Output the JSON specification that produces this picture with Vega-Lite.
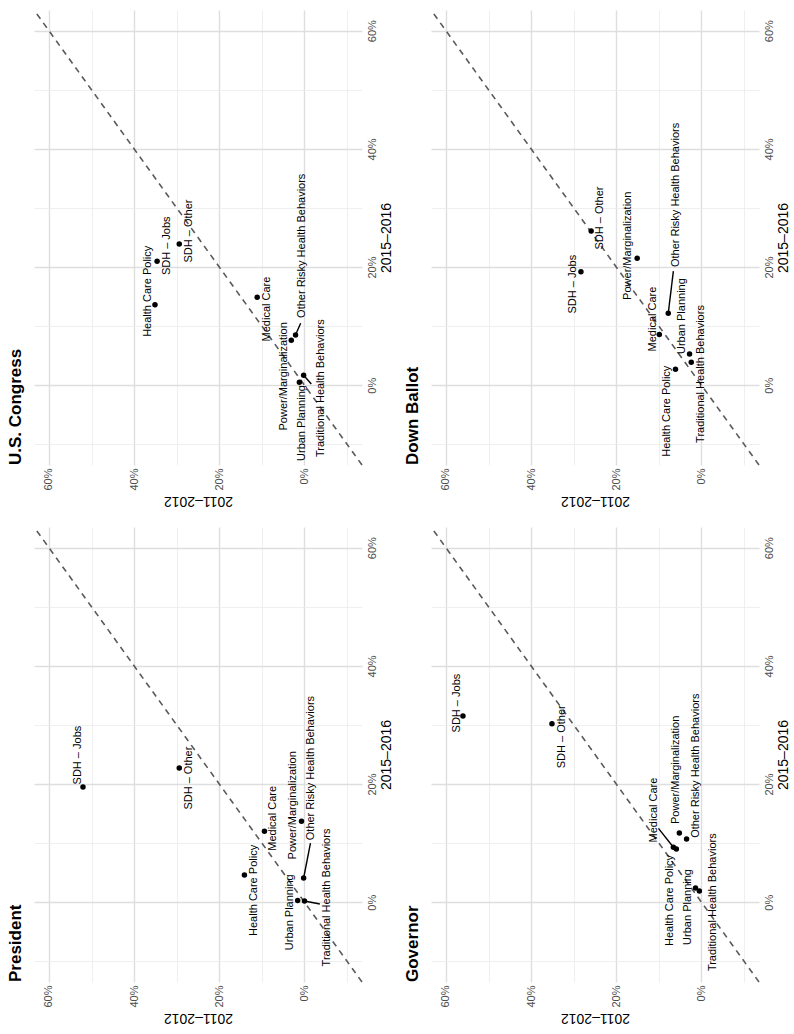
{
  "$schema": "https://vega.github.io/schema/vega-lite/v6.json",
  "background": "white",
  "padding": {"left": 7, "top": 9, "right": 0, "bottom": 0},
  "columns": 2,
  "spacing": {"row": 18, "column": 11},
  "datasets": {
    "diag": [{"lo": -13.5, "hi": 63.5}],
    "pts": [
      {"panel": "U.S. Congress", "label": "SDH – Jobs", "p2011": 34.6, "p2015": 21.0, "lx": 32.2, "ly": 23.6},
      {"panel": "U.S. Congress", "label": "SDH – Other", "p2011": 29.4, "p2015": 23.9, "lx": 27.1, "ly": 26.1},
      {"panel": "U.S. Congress", "label": "Health Care Policy", "p2011": 35.1, "p2015": 13.6, "lx": 36.7, "ly": 15.9},
      {"panel": "U.S. Congress", "label": "Medical Care", "p2011": 11.1, "p2015": 14.9, "lx": 8.9, "ly": 12.9},
      {"panel": "U.S. Congress", "label": "Power/Marginalization", "p2011": 3.1, "p2015": 7.6, "lx": 4.7, "ly": 1.5},
      {"panel": "U.S. Congress", "label": "Other Risky Health Behaviors", "p2011": 2.1, "p2015": 8.5, "lx": 0.7, "ly": 23.6, "sx": 0.9, "sy": 10.5},
      {"panel": "U.S. Congress", "label": "Urban Planning", "p2011": 1.2, "p2015": 0.5, "lx": 0.5, "ly": -6.4},
      {"panel": "U.S. Congress", "label": "Traditional Health Behaviors", "p2011": 0.2, "p2015": 1.7, "lx": -3.8, "ly": -0.5, "sx": -1.6, "sy": 0.2},
      {"panel": "Down Ballot", "label": "SDH – Jobs", "p2011": 28.3, "p2015": 19.2, "lx": 30.1, "ly": 17.1},
      {"panel": "Down Ballot", "label": "SDH – Other", "p2011": 25.9, "p2015": 26.1, "lx": 23.8, "ly": 28.3},
      {"panel": "Down Ballot", "label": "Power/Marginalization", "p2011": 15.1, "p2015": 21.5, "lx": 17.2, "ly": 23.6},
      {"panel": "Down Ballot", "label": "Other Risky Health Behaviors", "p2011": 7.8, "p2015": 12.2, "lx": 6.1, "ly": 32.2, "sx": 6.6, "sy": 19.3},
      {"panel": "Down Ballot", "label": "Medical Care", "p2011": 9.9, "p2015": 8.6, "lx": 11.5, "ly": 11.2},
      {"panel": "Down Ballot", "label": "Urban Planning", "p2011": 2.8, "p2015": 5.3, "lx": 4.5, "ly": 11.7},
      {"panel": "Down Ballot", "label": "Traditional Health Behaviors", "p2011": 2.4, "p2015": 3.9, "lx": 0.2, "ly": 1.9},
      {"panel": "Down Ballot", "label": "Health Care Policy", "p2011": 6.1, "p2015": 2.7, "lx": 8.0, "ly": -4.4},
      {"panel": "President", "label": "SDH – Jobs", "p2011": 52.0, "p2015": 19.5, "lx": 53.2, "ly": 24.9},
      {"panel": "President", "label": "SDH – Other", "p2011": 29.4, "p2015": 22.7, "lx": 27.1, "ly": 21.0},
      {"panel": "President", "label": "Health Care Policy", "p2011": 14.1, "p2015": 4.6, "lx": 11.8, "ly": 2.0},
      {"panel": "President", "label": "Medical Care", "p2011": 9.4, "p2015": 12.0, "lx": 7.3, "ly": 14.2},
      {"panel": "President", "label": "Power/Marginalization", "p2011": 0.7, "p2015": 13.7, "lx": 2.6, "ly": 16.4},
      {"panel": "President", "label": "Other Risky Health Behaviors", "p2011": 0.2, "p2015": 4.1, "lx": -1.6, "ly": 22.7, "sx": -1.4, "sy": 10.0},
      {"panel": "President", "label": "Urban Planning", "p2011": 1.6, "p2015": 0.3, "lx": 3.3, "ly": -1.7},
      {"panel": "President", "label": "Traditional Health Behaviors", "p2011": 0.0, "p2015": 0.2, "lx": -5.2, "ly": 0.8, "sx": -3.6, "sy": -0.3},
      {"panel": "Governor", "label": "SDH – Jobs", "p2011": 56.0, "p2015": 31.5, "lx": 57.5, "ly": 33.7},
      {"panel": "Governor", "label": "SDH – Other", "p2011": 35.1, "p2015": 30.2, "lx": 32.7, "ly": 28.0},
      {"panel": "Governor", "label": "Medical Care", "p2011": 6.6, "p2015": 9.3, "lx": 11.1, "ly": 15.6, "sx": 10.1, "sy": 12.5},
      {"panel": "Governor", "label": "Health Care Policy", "p2011": 5.9, "p2015": 9.0, "lx": 7.3, "ly": 0.3},
      {"panel": "Governor", "label": "Power/Marginalization", "p2011": 5.2, "p2015": 11.7, "lx": 6.1, "ly": 22.4},
      {"panel": "Governor", "label": "Other Risky Health Behaviors", "p2011": 3.5, "p2015": 10.7, "lx": 1.4, "ly": 23.1},
      {"panel": "Governor", "label": "Urban Planning", "p2011": 1.4, "p2015": 2.4, "lx": 3.1, "ly": -0.8},
      {"panel": "Governor", "label": "Traditional Health Behaviors", "p2011": 0.5, "p2015": 1.9, "lx": -2.8, "ly": 0.0}
    ]
  },
  "concat": [
    {
      "width": 328, "height": 455,
      "title": {"text": "U.S. Congress", "orient": "left", "anchor": "start", "frame": "group", "offset": 8},
      "layer": [
        {"data": {"name": "diag"}, "mark": {"type": "rule", "strokeDash": [6, 5], "color": "#5a5a5a", "strokeWidth": 1.6},
         "encoding": {
           "x": {"field": "lo", "type": "quantitative", "title": "2011–2012", "scale": {"domain": [-13.5, 63.5], "reverse": true, "nice": false, "zero": false},
                 "axis": {"orient": "bottom", "values": [-10, 0, 10, 20, 30, 40, 50, 60], "labelExpr": "datum.value % 20 === 0 ? datum.value + '%' : ''", "labelAngle": 270, "labelAlign": "right", "labelBaseline": "middle", "labelPadding": 3, "titleAngle": 180, "titleBaseline": "bottom", "titlePadding": 3, "gridColor": {"condition": {"test": "datum.value % 20 === 0", "value": "#dedede"}, "value": "#ebebeb"}, "gridWidth": {"condition": {"test": "datum.value % 20 === 0", "value": 1.4}, "value": 0.8}}},
           "y": {"field": "lo", "type": "quantitative", "title": "2015–2016", "scale": {"domain": [-13.5, 63.5], "nice": false, "zero": false},
                 "axis": {"orient": "right", "values": [-10, 0, 10, 20, 30, 40, 50, 60], "labelExpr": "datum.value % 20 === 0 ? datum.value + '%' : ''", "labelAngle": 270, "labelAlign": "center", "labelBaseline": "top", "labelPadding": 4, "titleAngle": 270, "titleBaseline": "top", "titlePadding": 2, "gridColor": {"condition": {"test": "datum.value % 20 === 0", "value": "#dedede"}, "value": "#ebebeb"}, "gridWidth": {"condition": {"test": "datum.value % 20 === 0", "value": 1.4}, "value": 0.8}}},
           "x2": {"field": "hi"}, "y2": {"field": "hi"}}},
        {"data": {"name": "pts"}, "transform": [{"filter": "datum.panel === 'U.S. Congress' && isValid(datum.sx)"}], "mark": {"type": "rule", "color": "black", "strokeWidth": 1.4},
         "encoding": {"x": {"field": "p2011", "type": "quantitative", "title": "2011–2012"}, "y": {"field": "p2015", "type": "quantitative", "title": "2015–2016"}, "x2": {"field": "sx"}, "y2": {"field": "sy"}}},
        {"data": {"name": "pts"}, "transform": [{"filter": "datum.panel === 'U.S. Congress'"}], "mark": {"type": "circle", "size": 30, "color": "black", "opacity": 1},
         "encoding": {"x": {"field": "p2011", "type": "quantitative", "title": "2011–2012"}, "y": {"field": "p2015", "type": "quantitative", "title": "2015–2016"}}},
        {"data": {"name": "pts"}, "transform": [{"filter": "datum.panel === 'U.S. Congress'"}], "mark": {"type": "text", "angle": 270, "fontSize": 11, "align": "center", "baseline": "middle", "color": "black"},
         "encoding": {"x": {"field": "lx", "type": "quantitative", "title": "2011–2012"}, "y": {"field": "ly", "type": "quantitative", "title": "2015–2016"}, "text": {"field": "label"}}}
      ]
    },
    {
      "width": 328, "height": 455,
      "title": {"text": "Down Ballot", "orient": "left", "anchor": "start", "frame": "group", "offset": 8},
      "layer": [
        {"data": {"name": "diag"}, "mark": {"type": "rule", "strokeDash": [6, 5], "color": "#5a5a5a", "strokeWidth": 1.6},
         "encoding": {
           "x": {"field": "lo", "type": "quantitative", "title": "2011–2012", "scale": {"domain": [-13.5, 63.5], "reverse": true, "nice": false, "zero": false},
                 "axis": {"orient": "bottom", "values": [-10, 0, 10, 20, 30, 40, 50, 60], "labelExpr": "datum.value % 20 === 0 ? datum.value + '%' : ''", "labelAngle": 270, "labelAlign": "right", "labelBaseline": "middle", "labelPadding": 3, "titleAngle": 180, "titleBaseline": "bottom", "titlePadding": 3, "gridColor": {"condition": {"test": "datum.value % 20 === 0", "value": "#dedede"}, "value": "#ebebeb"}, "gridWidth": {"condition": {"test": "datum.value % 20 === 0", "value": 1.4}, "value": 0.8}}},
           "y": {"field": "lo", "type": "quantitative", "title": "2015–2016", "scale": {"domain": [-13.5, 63.5], "nice": false, "zero": false},
                 "axis": {"orient": "right", "values": [-10, 0, 10, 20, 30, 40, 50, 60], "labelExpr": "datum.value % 20 === 0 ? datum.value + '%' : ''", "labelAngle": 270, "labelAlign": "center", "labelBaseline": "top", "labelPadding": 4, "titleAngle": 270, "titleBaseline": "top", "titlePadding": 2, "gridColor": {"condition": {"test": "datum.value % 20 === 0", "value": "#dedede"}, "value": "#ebebeb"}, "gridWidth": {"condition": {"test": "datum.value % 20 === 0", "value": 1.4}, "value": 0.8}}},
           "x2": {"field": "hi"}, "y2": {"field": "hi"}}},
        {"data": {"name": "pts"}, "transform": [{"filter": "datum.panel === 'Down Ballot' && isValid(datum.sx)"}], "mark": {"type": "rule", "color": "black", "strokeWidth": 1.4},
         "encoding": {"x": {"field": "p2011", "type": "quantitative", "title": "2011–2012"}, "y": {"field": "p2015", "type": "quantitative", "title": "2015–2016"}, "x2": {"field": "sx"}, "y2": {"field": "sy"}}},
        {"data": {"name": "pts"}, "transform": [{"filter": "datum.panel === 'Down Ballot'"}], "mark": {"type": "circle", "size": 30, "color": "black", "opacity": 1},
         "encoding": {"x": {"field": "p2011", "type": "quantitative", "title": "2011–2012"}, "y": {"field": "p2015", "type": "quantitative", "title": "2015–2016"}}},
        {"data": {"name": "pts"}, "transform": [{"filter": "datum.panel === 'Down Ballot'"}], "mark": {"type": "text", "angle": 270, "fontSize": 11, "align": "center", "baseline": "middle", "color": "black"},
         "encoding": {"x": {"field": "lx", "type": "quantitative", "title": "2011–2012"}, "y": {"field": "ly", "type": "quantitative", "title": "2015–2016"}, "text": {"field": "label"}}}
      ]
    },
    {
      "width": 328, "height": 455,
      "title": {"text": "President", "orient": "left", "anchor": "start", "frame": "group", "offset": 8},
      "layer": [
        {"data": {"name": "diag"}, "mark": {"type": "rule", "strokeDash": [6, 5], "color": "#5a5a5a", "strokeWidth": 1.6},
         "encoding": {
           "x": {"field": "lo", "type": "quantitative", "title": "2011–2012", "scale": {"domain": [-13.5, 63.5], "reverse": true, "nice": false, "zero": false},
                 "axis": {"orient": "bottom", "values": [-10, 0, 10, 20, 30, 40, 50, 60], "labelExpr": "datum.value % 20 === 0 ? datum.value + '%' : ''", "labelAngle": 270, "labelAlign": "right", "labelBaseline": "middle", "labelPadding": 3, "titleAngle": 180, "titleBaseline": "bottom", "titlePadding": 3, "gridColor": {"condition": {"test": "datum.value % 20 === 0", "value": "#dedede"}, "value": "#ebebeb"}, "gridWidth": {"condition": {"test": "datum.value % 20 === 0", "value": 1.4}, "value": 0.8}}},
           "y": {"field": "lo", "type": "quantitative", "title": "2015–2016", "scale": {"domain": [-13.5, 63.5], "nice": false, "zero": false},
                 "axis": {"orient": "right", "values": [-10, 0, 10, 20, 30, 40, 50, 60], "labelExpr": "datum.value % 20 === 0 ? datum.value + '%' : ''", "labelAngle": 270, "labelAlign": "center", "labelBaseline": "top", "labelPadding": 4, "titleAngle": 270, "titleBaseline": "top", "titlePadding": 2, "gridColor": {"condition": {"test": "datum.value % 20 === 0", "value": "#dedede"}, "value": "#ebebeb"}, "gridWidth": {"condition": {"test": "datum.value % 20 === 0", "value": 1.4}, "value": 0.8}}},
           "x2": {"field": "hi"}, "y2": {"field": "hi"}}},
        {"data": {"name": "pts"}, "transform": [{"filter": "datum.panel === 'President' && isValid(datum.sx)"}], "mark": {"type": "rule", "color": "black", "strokeWidth": 1.4},
         "encoding": {"x": {"field": "p2011", "type": "quantitative", "title": "2011–2012"}, "y": {"field": "p2015", "type": "quantitative", "title": "2015–2016"}, "x2": {"field": "sx"}, "y2": {"field": "sy"}}},
        {"data": {"name": "pts"}, "transform": [{"filter": "datum.panel === 'President'"}], "mark": {"type": "circle", "size": 30, "color": "black", "opacity": 1},
         "encoding": {"x": {"field": "p2011", "type": "quantitative", "title": "2011–2012"}, "y": {"field": "p2015", "type": "quantitative", "title": "2015–2016"}}},
        {"data": {"name": "pts"}, "transform": [{"filter": "datum.panel === 'President'"}], "mark": {"type": "text", "angle": 270, "fontSize": 11, "align": "center", "baseline": "middle", "color": "black"},
         "encoding": {"x": {"field": "lx", "type": "quantitative", "title": "2011–2012"}, "y": {"field": "ly", "type": "quantitative", "title": "2015–2016"}, "text": {"field": "label"}}}
      ]
    },
    {
      "width": 328, "height": 455,
      "title": {"text": "Governor", "orient": "left", "anchor": "start", "frame": "group", "offset": 8},
      "layer": [
        {"data": {"name": "diag"}, "mark": {"type": "rule", "strokeDash": [6, 5], "color": "#5a5a5a", "strokeWidth": 1.6},
         "encoding": {
           "x": {"field": "lo", "type": "quantitative", "title": "2011–2012", "scale": {"domain": [-13.5, 63.5], "reverse": true, "nice": false, "zero": false},
                 "axis": {"orient": "bottom", "values": [-10, 0, 10, 20, 30, 40, 50, 60], "labelExpr": "datum.value % 20 === 0 ? datum.value + '%' : ''", "labelAngle": 270, "labelAlign": "right", "labelBaseline": "middle", "labelPadding": 3, "titleAngle": 180, "titleBaseline": "bottom", "titlePadding": 3, "gridColor": {"condition": {"test": "datum.value % 20 === 0", "value": "#dedede"}, "value": "#ebebeb"}, "gridWidth": {"condition": {"test": "datum.value % 20 === 0", "value": 1.4}, "value": 0.8}}},
           "y": {"field": "lo", "type": "quantitative", "title": "2015–2016", "scale": {"domain": [-13.5, 63.5], "nice": false, "zero": false},
                 "axis": {"orient": "right", "values": [-10, 0, 10, 20, 30, 40, 50, 60], "labelExpr": "datum.value % 20 === 0 ? datum.value + '%' : ''", "labelAngle": 270, "labelAlign": "center", "labelBaseline": "top", "labelPadding": 4, "titleAngle": 270, "titleBaseline": "top", "titlePadding": 2, "gridColor": {"condition": {"test": "datum.value % 20 === 0", "value": "#dedede"}, "value": "#ebebeb"}, "gridWidth": {"condition": {"test": "datum.value % 20 === 0", "value": 1.4}, "value": 0.8}}},
           "x2": {"field": "hi"}, "y2": {"field": "hi"}}},
        {"data": {"name": "pts"}, "transform": [{"filter": "datum.panel === 'Governor' && isValid(datum.sx)"}], "mark": {"type": "rule", "color": "black", "strokeWidth": 1.4},
         "encoding": {"x": {"field": "p2011", "type": "quantitative", "title": "2011–2012"}, "y": {"field": "p2015", "type": "quantitative", "title": "2015–2016"}, "x2": {"field": "sx"}, "y2": {"field": "sy"}}},
        {"data": {"name": "pts"}, "transform": [{"filter": "datum.panel === 'Governor'"}], "mark": {"type": "circle", "size": 30, "color": "black", "opacity": 1},
         "encoding": {"x": {"field": "p2011", "type": "quantitative", "title": "2011–2012"}, "y": {"field": "p2015", "type": "quantitative", "title": "2015–2016"}}},
        {"data": {"name": "pts"}, "transform": [{"filter": "datum.panel === 'Governor'"}], "mark": {"type": "text", "angle": 270, "fontSize": 11, "align": "center", "baseline": "middle", "color": "black"},
         "encoding": {"x": {"field": "lx", "type": "quantitative", "title": "2011–2012"}, "y": {"field": "ly", "type": "quantitative", "title": "2015–2016"}, "text": {"field": "label"}}}
      ]
    }
  ],
  "config": {
    "view": {"stroke": null},
    "font": "Liberation Sans",
    "axis": {"ticks": false, "domain": false, "labelFont": "Liberation Sans", "labelFontSize": 11, "labelColor": "#4d4d4d", "labelOverlap": false, "labelBound": false, "labelFlush": false, "titleFont": "Liberation Sans", "titleFontSize": 14, "titleFontWeight": "normal", "titleColor": "#000000"},
    "title": {"font": "Liberation Sans", "fontSize": 17, "fontWeight": "bold", "color": "#000000"},
    "text": {"font": "Liberation Sans"}
  }
}
